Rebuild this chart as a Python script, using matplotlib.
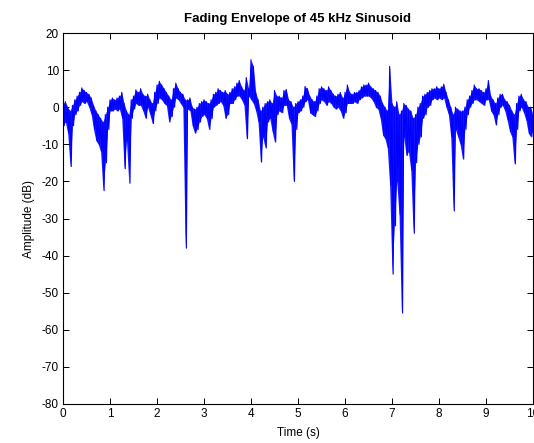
import numpy as np
import matplotlib
matplotlib.use("Agg")
import matplotlib.pyplot as plt

plt.rcParams['font.family'] = ['Liberation Sans', 'DejaVu Sans']
plt.rcParams['axes.unicode_minus'] = False

# envelope, one pair per 0.05 s (upper / lower edge of the trace, dB)
amp_hi = [1, 1.5, 0, -1, 0.5, 2, 3, 4, 5.2, 4.5,
          4, 3.5, 2.5, 0.5, -1, -2, -3, -4, -2, 0,
          2, 2.5, 2, 2.5, 3, 4, 1, -1, -2, 2,
          3, 4.7, 4, 5, 3.5, 3, 3.5, 2, 1, 4,
          6, 7, 6, 5, 4, 3, 2, 5, 6.5, 5,
          4, 3.5, 2, 2, 2.5, 0, -0.5, 0, 1, 1.5,
          2, 1.5, 1, 2, 3.5, 4, 5, 4.5, 4, 4.5,
          3.5, 4, 5, 5.5, 6.5, 7.2, 5.5, 4.5, 8, 5,
          12.8, 11, 4, 2, -1, 0, 1, 1.5, 2, 1,
          4.5, 3, 3, 2.5, 4.5, 4.8, 2, 1.5, 0, 1,
          1.5, 2, 3, 5.6, 5, 3, 2, 1.5, 3, 5,
          5.5, 5, 4.5, 5.5, 4.5, 3.5, 3, 3.5, 4, 2.5,
          4, 6, 4, 3.5, 4, 4, 4.5, 5.5, 6, 6,
          6.5, 5.5, 5, 4.5, 4, 3, 1, 0, -1, 11,
          1, 0, 1.5, -2, -1, 1, 0.5, -0.5, -1, -3,
          -2, 0, 1, 3, 3.5, 4, 4.5, 5, 5, 5.5,
          5, 5.5, 6.2, 4, 2, 0, -2, 0, -0.5, -1,
          -1, 0, 2, 3, 4.5, 6, 5, 5, 4.5, 4,
          5, 7.2, 3, 2, 1, 2.5, 3.5, 3.5, 2, 1.5,
          0.5, -1, -2, 1, 3, 3.5, 2, 1.5, 0, 0,
          -2]
amp_lo = [-5, -4, -7, -16, -5, -2, -1, 0.5, 1.5, 1,
          1.5, 0, -2, -6, -9, -10, -12, -22.5, -15, -6,
          -1, -1, -0.5, -1, -0.5, -3, -16.6, -9, -20.5, -3,
          -0.5, 1, 0.5, 0.5, -1, -3, 0, -2, -4.4, -1,
          1, 2.5, 2, 1, 0.5, -4, -2.5, 0, 2.5, 2,
          1, 0, -38, -0.5, -1, -5, -7, -6, -4, -2.5,
          -2, -3, -6, -3, 0, 0.5, 1, 1.5, 0.5, -3,
          -2, 1, 1, 2, 3, 3, 2, 0.6, -8.5, 3,
          2, 1, -1, -4, -14.8, -8, -11, -4, -3, -6.5,
          -9.4, -2, -1, -1.5, 0.5, 0.5, -3, -4.5, -20, -6,
          -1.5, -1, 0, 1.5, 2, -1.5, -2, -2.5, -1, 1,
          2, 1.5, 0.5, 1.5, 1, 0, -0.5, 0, -1, -3,
          -1.5, 1, 1, 1, 1.5, 1, 2, 2.5, 3, 3,
          3, 2.5, 1.5, 0, -0.5, -3, -7.5, -8.5, -11, -21,
          -45, -32, -20, -29, -55.5, -8, -13, -12, -17, -34,
          -15, -10, -8, -3, -2, 0, 0.5, 2, 2.5, 2,
          2.5, 2, 2.5, 0, -2, -8, -28, -6, -8, -10,
          -14, -6, -2, 0, 1, 2, 2, 1.5, 1, 0.5,
          2, 2, -1, -2, -4.8, -2, 0, 0.5, -1, -3.5,
          -6.5, -8, -15.3, -6, -1, 0, -1.5, -3.5, -7, -8,
          -6]
step = 0.05

n = len(amp_hi)
tk = np.arange(n) * step
t = np.empty(2 * n)
y = np.empty(2 * n)
t[0::2] = tk
t[1::2] = tk + step / 2
y[0::2] = amp_hi
y[1::2] = amp_lo

fig = plt.figure(figsize=(5.34, 4.43), dpi=100)
ax = fig.add_axes([63 / 534, 39 / 443, 470 / 534, 371 / 443])
# dense trace: band between the edges plus the zig-zag for the ragged look
ax.fill_between(tk, amp_lo, amp_hi, color=(0, 0, 1), linewidth=0, alpha=0.9)
ax.plot(t, y, color=(0, 0, 1), linewidth=0.8)

ax.set_xlim(0, 10)
ax.set_ylim(-80, 20)
ax.set_xticks(range(0, 11))
ax.set_yticks(range(-80, 21, 10))
ax.tick_params(direction='in', top=True, right=True, length=4, width=0.7,
               labelsize=8.5, pad=3)
for s in ax.spines.values():
    s.set_linewidth(0.8)

ax.set_title('Fading Envelope of 45 kHz Sinusoid', fontsize=9.5,
             fontweight='bold', pad=8)
ax.set_xlabel('Time (s)', fontsize=8.5, labelpad=5)
ax.set_ylabel('Amplitude (dB)', fontsize=8.5, labelpad=5)

fig.savefig('out.png', dpi=100)
